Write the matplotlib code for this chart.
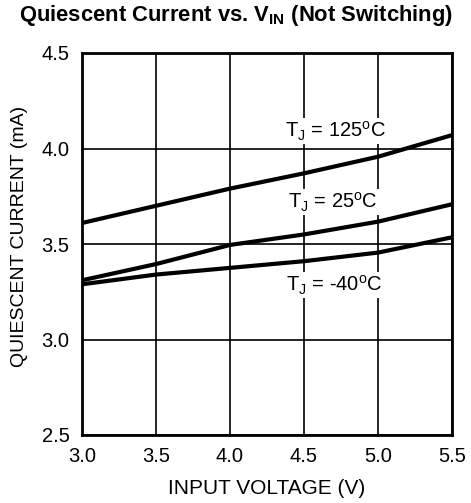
import matplotlib
matplotlib.use("Agg")
import matplotlib.pyplot as plt

plt.rcParams['font.family'] = ['Liberation Sans', 'DejaVu Sans']
plt.rcParams['mathtext.fontset'] = 'custom'
plt.rcParams['mathtext.rm'] = 'Liberation Sans'
plt.rcParams['mathtext.bf'] = 'Liberation Sans:bold'

## data
vin = [3.0, 3.5, 4.0, 4.5, 5.0, 5.5]
iq_125 = [3.61, 3.70, 3.79, 3.87, 3.957, 4.07]
iq_25 = [3.31, 3.395, 3.495, 3.55, 3.617, 3.708]
iq_m40 = [3.289, 3.34, 3.375, 3.41, 3.455, 3.535]

x_ticks = [3.0, 3.5, 4.0, 4.5, 5.0, 5.5]
y_ticks = [2.5, 3.0, 3.5, 4.0, 4.5]

labels = [r"T$_\mathregular{J}$ = 125$^\mathregular{o}$C",
          r"T$_\mathregular{J}$ = 25$^\mathregular{o}$C",
          r"T$_\mathregular{J}$ = -40$^\mathregular{o}$C"]
label_pos = [(4.37, 4.09), (4.39, 3.72), (4.38, 3.285)]

fig = plt.figure(figsize=(4.71, 5.03), dpi=100)
ax = fig.add_axes([82/471, 1 - 435/503, 370/471, 382/503])

for y in [iq_125, iq_25, iq_m40]:
    ax.plot(vin, y, color='black', lw=3, solid_capstyle='butt', zorder=3)

for (x, y), txt in zip(label_pos, labels):
    ax.text(x, y, txt, fontsize=14.5, va='center', ha='left', zorder=4,
            bbox=dict(facecolor='white', edgecolor='none', pad=1))

ax.set_xlim(3.0, 5.5)
ax.set_ylim(2.5, 4.5)
ax.set_xticks(x_ticks)
ax.set_yticks(y_ticks)
ax.set_xticklabels(["%.1f" % v for v in x_ticks])
ax.set_yticklabels(["%.1f" % v for v in y_ticks])
ax.tick_params(length=0, labelsize=14.5)
ax.tick_params(axis='x', pad=9)
ax.tick_params(axis='y', pad=9)
ax.grid(True, color='black', lw=1.2)
for s in ax.spines.values():
    s.set_linewidth(2)

ax.set_xlabel("INPUT VOLTAGE (V)", fontsize=15, labelpad=9)
ax.set_ylabel("QUIESCENT CURRENT (mA)", fontsize=14)
ax.yaxis.set_label_coords(-0.145, 0.52)

fig.text(0.5, 1 - 15/503, r"Quiescent Current vs. V$_\mathbf{IN}$ (Not Switching)",
         fontsize=15.8, fontweight='bold', ha='center', va='center')

fig.savefig("out.png", dpi=100)
